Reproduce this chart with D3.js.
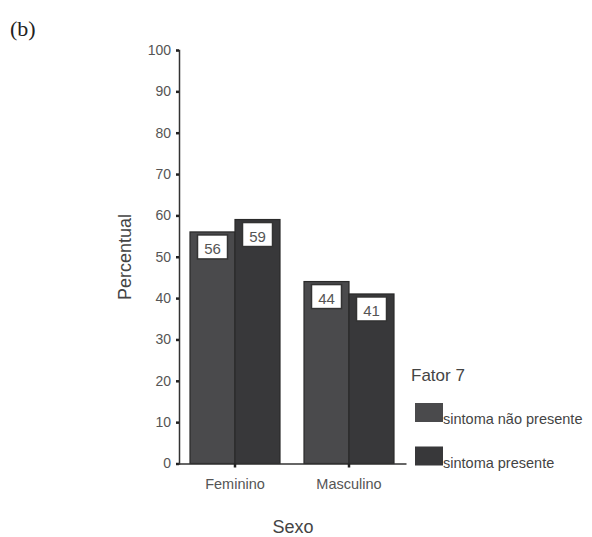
<!DOCTYPE html>
<html>
<head>
<meta charset="utf-8">
<script src="https://cdn.jsdelivr.net/npm/d3@7"></script>
<style>
  html, body { margin: 0; padding: 0; background: #fff; }
  svg { display: block; }
  text { font-family: "Liberation Sans", Arial, sans-serif; }
</style>
</head>
<body>
<svg id="chart" width="592" height="537"></svg>
<script>
const categories = ["Feminino", "Masculino"];
const seriesNames = ["sintoma não presente", "sintoma presente"];
const seriesNaoPresente = [56, 44];
const seriesPresente = [59, 41];
const yTicks = [0, 10, 20, 30, 40, 50, 60, 70, 80, 90, 100];
const colors = ["#4a4a4c", "#38383a"];

const svg = d3.select("#chart");

const y = d3.scaleLinear().domain([0, 100]).range([463.5, 50]);
const x = d3.scaleBand().domain(categories).range([178, 406]).padding(0);
const xSub = d3.scaleBand().domain(seriesNames).range([12, 102]).padding(0);

const values = [seriesNaoPresente, seriesPresente];

// "(b)" label
svg.append("text").attr("x", 10).attr("y", 36)
  .style("font-family", "'Liberation Serif', 'Times New Roman', serif")
  .style("font-size", "22px").attr("fill", "#222").text("(b)");

// bars
categories.forEach((cat, ci) => {
  seriesNames.forEach((s, si) => {
    const v = values[si][ci];
    const bx = x(cat) + xSub(s);
    const bw = xSub.bandwidth();
    svg.append("rect")
      .attr("x", bx).attr("y", y(v))
      .attr("width", bw).attr("height", y(0) - y(v))
      .attr("fill", colors[si]).attr("stroke", "#2a2a2a").attr("stroke-width", 1.2);
    // label box
    const boxW = 30, boxH = 24;
    const cx = bx + bw / 2;
    svg.append("rect")
      .attr("x", cx - boxW / 2).attr("y", y(v) + 3)
      .attr("width", boxW).attr("height", boxH)
      .attr("fill", "#fff").attr("stroke", "#333").attr("stroke-width", 1.5);
    svg.append("text")
      .attr("x", cx).attr("y", y(v) + 3 + 19)
      .attr("text-anchor", "middle")
      .style("font-size", "15px").attr("fill", "#555").text(v);
  });
});

// y axis
const yAxis = d3.axisLeft(y).tickValues(yTicks).tickSize(3).tickPadding(5);
const gy = svg.append("g").attr("transform", "translate(179,0)").call(yAxis);
gy.select(".domain").attr("stroke", "#333").attr("stroke-width", 1.5);
gy.selectAll(".tick line").attr("stroke", "#222").attr("stroke-width", 2.5);
gy.selectAll(".tick text").style("font-size", "14px").attr("fill", "#555")
  .style("font-family", "'Liberation Sans', Arial, sans-serif");

// x axis
const xAxis = d3.axisBottom(x).tickSize(4).tickSizeOuter(0).tickPadding(11);
const gx = svg.append("g").attr("transform", `translate(0,${y(0)})`).call(xAxis);
gx.select(".domain").attr("stroke", "#333").attr("stroke-width", 1.5);
gx.selectAll(".tick line").attr("stroke", "#222").attr("stroke-width", 2.5);
gx.selectAll(".tick text").style("font-size", "14.5px").attr("fill", "#555")
  .style("font-family", "'Liberation Sans', Arial, sans-serif");

// axis titles
svg.append("text")
  .attr("transform", "translate(131,257) rotate(-90)")
  .attr("text-anchor", "middle")
  .style("font-size", "18px").attr("fill", "#444").text("Percentual");
svg.append("text")
  .attr("x", 293).attr("y", 533)
  .attr("text-anchor", "middle")
  .style("font-size", "18px").attr("fill", "#444").text("Sexo");

// legend
svg.append("text").attr("x", 411).attr("y", 381)
  .style("font-size", "17px").attr("fill", "#444").text("Fator 7");
const legendY = [403, 446.5];
seriesNames.forEach((s, i) => {
  svg.append("rect").attr("x", 415).attr("y", legendY[i])
    .attr("width", 28).attr("height", 19).attr("fill", colors[i]);
  svg.append("text").attr("x", 443).attr("y", legendY[i] + 21)
    .style("font-size", "14.5px").attr("fill", "#444").text(s);
});
</script>
</body>
</html>
